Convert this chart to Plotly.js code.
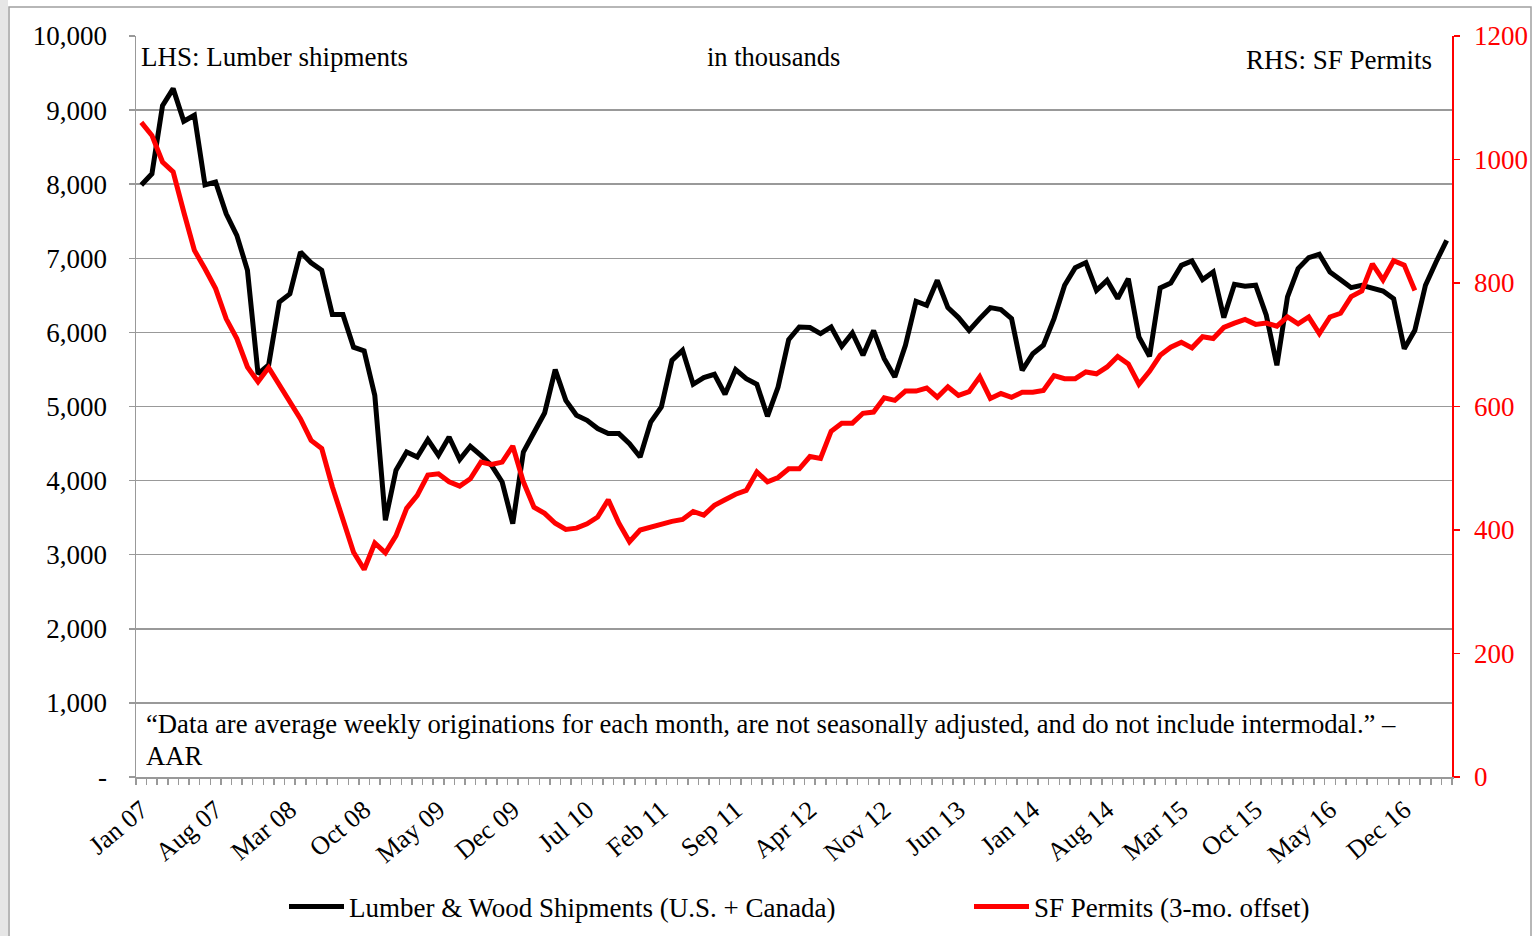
<!DOCTYPE html>
<html>
<head>
<meta charset="utf-8">
<script src="https://cdn.plot.ly/plotly-3.0.1.min.js"></script>
<style>html,body{margin:0;padding:0;background:#fff;}#chart{width:1536px;height:936px;}</style>
</head>
<body>
<div id="chart"></div>
<script>
const months = [
"Jan 07","Feb 07","Mar 07","Apr 07","May 07","Jun 07","Jul 07","Aug 07","Sep 07","Oct 07","Nov 07","Dec 07",
"Jan 08","Feb 08","Mar 08","Apr 08","May 08","Jun 08","Jul 08","Aug 08","Sep 08","Oct 08","Nov 08","Dec 08",
"Jan 09","Feb 09","Mar 09","Apr 09","May 09","Jun 09","Jul 09","Aug 09","Sep 09","Oct 09","Nov 09","Dec 09",
"Jan 10","Feb 10","Mar 10","Apr 10","May 10","Jun 10","Jul 10","Aug 10","Sep 10","Oct 10","Nov 10","Dec 10",
"Jan 11","Feb 11","Mar 11","Apr 11","May 11","Jun 11","Jul 11","Aug 11","Sep 11","Oct 11","Nov 11","Dec 11",
"Jan 12","Feb 12","Mar 12","Apr 12","May 12","Jun 12","Jul 12","Aug 12","Sep 12","Oct 12","Nov 12","Dec 12",
"Jan 13","Feb 13","Mar 13","Apr 13","May 13","Jun 13","Jul 13","Aug 13","Sep 13","Oct 13","Nov 13","Dec 13",
"Jan 14","Feb 14","Mar 14","Apr 14","May 14","Jun 14","Jul 14","Aug 14","Sep 14","Oct 14","Nov 14","Dec 14",
"Jan 15","Feb 15","Mar 15","Apr 15","May 15","Jun 15","Jul 15","Aug 15","Sep 15","Oct 15","Nov 15","Dec 15",
"Jan 16","Feb 16","Mar 16","Apr 16","May 16","Jun 16","Jul 16","Aug 16","Sep 16","Oct 16","Nov 16","Dec 16",
"Jan 17","Feb 17","Mar 17","Apr 17"
];

const tickLabels = ["Jan 07","Aug 07","Mar 08","Oct 08","May 09","Dec 09","Jul 10","Feb 11","Sep 11",
"Apr 12","Nov 12","Jun 13","Jan 14","Aug 14","Mar 15","Oct 15","May 16","Dec 16"];

// Lumber & Wood Shipments (U.S. + Canada), LHS
const lumber = [
7990,8140,9060,9290,8850,8930,7990,8030,7600,7310,6840,5440,
5560,6410,6520,7085,6940,6840,6240,6240,5800,5750,5150,3465,
4140,4386,4318,4553,4341,4588,4283,4463,4341,4206,3981,3420,
4386,4656,4912,5498,5083,4881,4814,4702,4634,4634,4499,4318,
4791,4993,5623,5758,5300,5390,5435,5165,5498,5376,5300,4868,
5263,5903,6073,6065,5984,6073,5812,5992,5691,6025,5646,5398,
5826,6420,6366,6703,6334,6200,6028,6186,6334,6307,6186,5488,
5713,5826,6186,6636,6874,6942,6568,6703,6456,6726,5938,5677,
6600,6667,6905,6964,6712,6815,6200,6649,6622,6636,6231,5556,
6478,6861,7009,7054,6815,6712,6604,6636,6604,6559,6456,5781,
6028,6636,6950,7243
];

// SF Permits (3-mo. offset), RHS
const permits = [
1060,1039,996,980,915,853,823,791,742,710,664,640,
663,635,605,580,545,532,470,416,364,336,379,363,
391,435,456,489,491,478,471,483,510,506,510,536,
478,437,427,411,401,403,410,421,449,411,381,400,
405,411,414,417,430,424,440,449,458,464,494,478,
485,499,499,519,516,560,573,573,589,591,614,610,
625,625,630,615,632,618,624,648,613,621,615,623,
623,626,650,645,645,656,653,664,681,669,636,657,
683,696,704,695,713,710,728,735,741,733,735,730,
745,734,745,718,745,751,778,787,831,805,836,829,
788
];

const leftTicks = [0,1000,2000,3000,4000,5000,6000,7000,8000,9000,10000];
const leftTickText = ["-","1,000","2,000","3,000","4,000","5,000","6,000","7,000","8,000","9,000","10,000"];

const FONT = "Liberation Serif, Times New Roman, serif";
const FS = 27;
const W = 1536, H = 936, L = 136, R = 84, T = 36, B = 159;
const pw = W - L - R, ph = H - T - B;
const px = p => (p - L) / pw;
const py = p => (H - B - p) / ph;

const traces = [
  {
    x: months, y: lumber, type: "scatter", mode: "lines",
    name: "Lumber & Wood Shipments (U.S. + Canada)",
    line: {color: "#000000", width: 5}, yaxis: "y", legend: "legend"
  },
  {
    x: months.slice(0, permits.length), y: permits, type: "scatter", mode: "lines",
    name: "SF Permits (3-mo. offset)",
    line: {color: "#FF0000", width: 5}, yaxis: "y2", legend: "legend2"
  }
];

const legendBase = {
  orientation: "h", xanchor: "left", y: py(907), yanchor: "middle",
  font: {family: FONT, size: FS, color: "#000"},
  itemwidth: 55, bgcolor: "rgba(0,0,0,0)"
};

const layout = {
  width: W, height: H,
  margin: {l: L, r: R, t: T, b: B, autoexpand: false},
  paper_bgcolor: "#ffffff", plot_bgcolor: "#ffffff",
  font: {family: FONT, size: FS, color: "#000"},
  showlegend: true,
  legend: Object.assign({}, legendBase, {x: px(284)}),
  legend2: Object.assign({}, legendBase, {x: px(969)}),
  xaxis: {
    type: "category", range: [-0.5, months.length - 0.5],
    tickmode: "array", tickvals: months,
    ticktext: months.map(m => tickLabels.includes(m) ? m : ""),
    tickson: "boundaries", ticks: "outside", ticklen: 6, tickwidth: 1.5, tickcolor: "#999999",
    tickangle: -40, tickfont: {family: FONT, size: 26, color: "#000"},
    ticklabelstandoff: 6,
    showline: true, linecolor: "#999999", linewidth: 1.5,
    showgrid: false, zeroline: false, automargin: false
  },
  yaxis: {
    range: [0, 10000], tickmode: "array", tickvals: leftTicks, ticktext: leftTickText,
    ticks: "outside", ticklen: 6, tickwidth: 1.5, tickcolor: "#999999",
    ticklabelstandoff: 16,
    tickfont: {family: FONT, size: FS, color: "#000"},
    showline: true, linecolor: "#999999", linewidth: 1.5,
    showgrid: true, gridcolor: "#999999", gridwidth: 1.5, zeroline: false, automargin: false
  },
  yaxis2: {
    range: [0, 1200], dtick: 200, tickformat: "d", overlaying: "y", side: "right",
    ticks: "outside", ticklen: 6, tickwidth: 1.5, tickcolor: "#FF0000",
    ticklabelstandoff: 9,
    tickfont: {family: FONT, size: FS, color: "#FF0000"},
    showline: true, linecolor: "#FF0000", linewidth: 1.5,
    showgrid: false, zeroline: false, automargin: false
  },
  annotations: [
    {xref: "paper", yref: "paper", x: px(139), y: py(57), xanchor: "left", yanchor: "middle",
     text: "LHS: Lumber shipments", showarrow: false, font: {family: FONT, size: FS, color: "#000"}},
    {xref: "paper", yref: "paper", x: px(773), y: py(57), xanchor: "center", yanchor: "middle",
     text: "in thousands", showarrow: false, font: {family: FONT, size: 26.5, color: "#000"}},
    {xref: "paper", yref: "paper", x: px(1434), y: py(60), xanchor: "right", yanchor: "middle",
     text: "RHS: SF Permits", showarrow: false, font: {family: FONT, size: FS, color: "#000"}},
    {xref: "paper", yref: "paper", x: px(144), y: py(724), xanchor: "left", yanchor: "middle",
     text: "\u201CData are average weekly originations for each month, are not seasonally adjusted, and do not include intermodal.\u201D \u2013",
     showarrow: false, font: {family: FONT, size: 26.7, color: "#000"}},
    {xref: "paper", yref: "paper", x: px(144), y: py(756), xanchor: "left", yanchor: "middle",
     text: "AAR", showarrow: false, font: {family: FONT, size: 26.7, color: "#000"}}
  ],
  shapes: [
    {type: "rect", xref: "paper", yref: "paper", x0: px(0), x1: px(8), y0: py(950), y1: py(0),
     fillcolor: "#e6e6e6", line: {width: 0}, layer: "below"},
    {type: "rect", xref: "paper", yref: "paper", x0: px(9), x1: px(1531), y0: py(950), y1: py(7),
     fillcolor: "rgba(0,0,0,0)", line: {color: "#a0a0a0", width: 1.5}, layer: "below"}
  ]
};

Plotly.newPlot("chart", traces, layout, {displayModeBar: false, staticPlot: true});
</script>
</body>
</html>
